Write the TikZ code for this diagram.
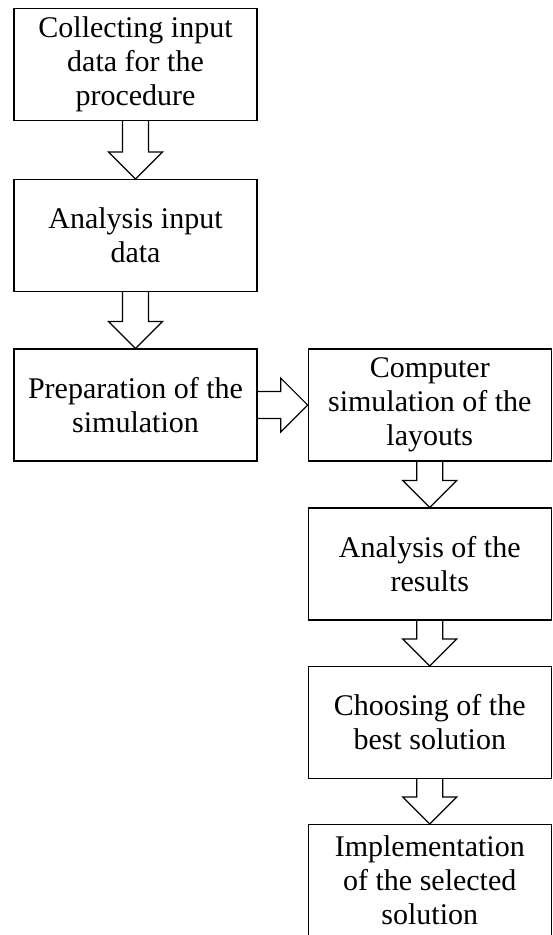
\documentclass[tikz,border=0pt]{standalone}
\usepackage{fontspec}
\setmainfont{Liberation Serif}
\usetikzlibrary{calc}

\begin{document}
\begin{tikzpicture}[x=1pt, y=-1pt, line width=1.2pt,
        box/.style={draw, align=center, minimum width=243pt, minimum height=112pt,
            inner sep=0pt, font=\fontsize{30}{34}\selectfont},
        downarrow/.style={to path={
            let \p1=(\tikztostart), \p2=(\tikztotarget) in
            (\x1-13pt,\y1) -- (\x1-13pt,\y2+27pt) -- (\x1-27pt,\y2+27pt) -- (\x2,\y2)
            -- (\x1+27pt,\y2+27pt) -- (\x1+13pt,\y2+27pt) -- (\x1+13pt,\y1)}},
        rightarrow/.style={to path={
            let \p1=(\tikztostart), \p2=(\tikztotarget) in
            (\x1,\y1+13.5pt) -- (\x2-27pt,\y1+13.5pt) -- (\x2-27pt,\y1+27pt) -- (\x2,\y2)
            -- (\x2-27pt,\y1-27pt) -- (\x2-27pt,\y1-13.5pt) -- (\x1,\y1-13.5pt)}}]
        \useasboundingbox (0,0) rectangle (552,935);
        \node[box] (Collecting) at (135.5,64.5) {
            Collecting input\\data for the\\procedure
        };
        \node[box] (AnalysisInput) at (135.5,235.5) {
            Analysis input\\data
        };
        \node[box] (Preparation) at (135.5,405) {
            Preparation of the\\simulation
        };
        \node[box] (Simulation) at (429.75,405) {
            Computer\\simulation of the\\layouts
        };
        \node[box] (AnalysisResults) at (429.75,564) {
            Analysis of the\\results
        };
        \node[box] (Choosing) at (429.75,722.5) {
            Choosing of the\\best solution
        };
        \node[box] (Implementation) at (429.75,880.5) {
            Implementation\\of the selected\\solution
        };
        \draw[downarrow] (Collecting.south) to (AnalysisInput.north);
        \draw[downarrow] (AnalysisInput.south) to (Preparation.north);
        \draw[rightarrow] (Preparation.east) to (Simulation.west);
        \draw[downarrow] (Simulation.south) to (AnalysisResults.north);
        \draw[downarrow] (AnalysisResults.south) to (Choosing.north);
        \draw[downarrow] (Choosing.south) to (Implementation.north);
    \end{tikzpicture}
\end{document}
